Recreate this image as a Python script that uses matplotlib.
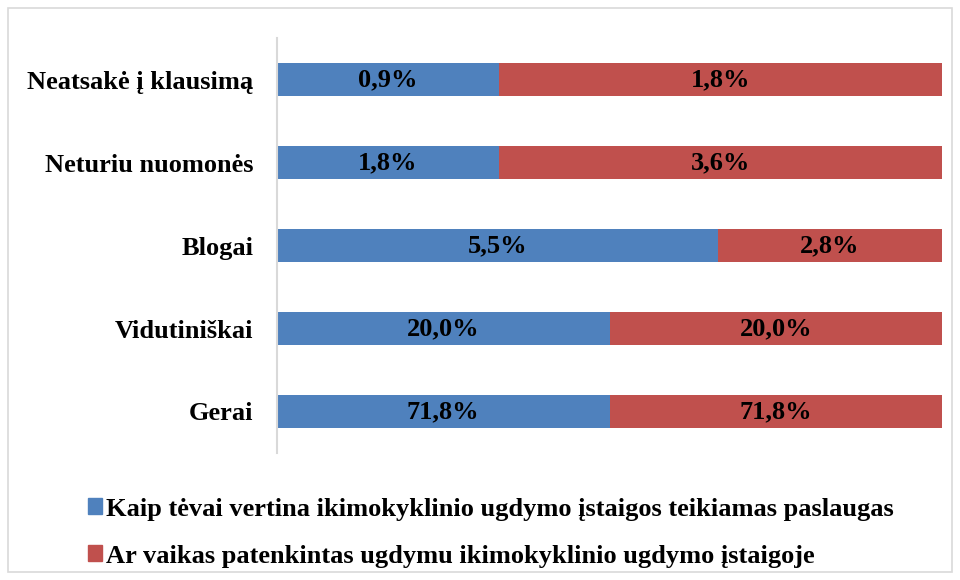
import matplotlib
matplotlib.use("Agg")
import matplotlib.pyplot as plt
from matplotlib.patches import Rectangle, Patch

categories = ["Gerai", "Vidutiniškai", "Blogai", "Neturiu nuomonės", "Neatsakė į klausimą"]
series1 = [71.8, 20.0, 5.5, 1.8, 0.9]
series2 = [71.8, 20.0, 2.8, 3.6, 1.8]
labels1 = ["71,8%", "20,0%", "5,5%", "1,8%", "0,9%"]
labels2 = ["71,8%", "20,0%", "2,8%", "3,6%", "1,8%"]
series_names = ["Kaip tėvai vertina ikimokyklinio ugdymo įstaigos teikiamas paslaugas",
                "Ar vaikas patenkintas ugdymu ikimokyklinio ugdymo įstaigoje"]
colors = ["#4F81BD", "#C0504D"]

plt.rcParams['font.family'] = ['Liberation Serif', 'DejaVu Serif']
plt.rcParams['font.weight'] = 'bold'
FS = 19

fig = plt.figure(figsize=(9.6, 5.8), dpi=100)
fig.patches.append(Rectangle((8/960, 8/580), 944/960, 564/580, transform=fig.transFigure,
                             fill=False, edgecolor="#D9D9D9", linewidth=1.2))
ax = fig.add_axes([277/960, (580-453)/580, (942-277)/960, (453-38)/580])

ys = list(range(len(categories)))
tot = [a + b for a, b in zip(series1, series2)]
p1 = [a / t for a, t in zip(series1, tot)]
p2 = [b / t for b, t in zip(series2, tot)]
ax.barh(ys, p1, height=0.4, color=colors[0])
ax.barh(ys, p2, left=p1, height=0.4, color=colors[1])
for y, a, b, l1, l2 in zip(ys, p1, p2, labels1, labels2):
    ax.text(a / 2, y, l1, ha="center", va="center", fontsize=FS, fontweight="bold", color="black")
    ax.text(a + b / 2, y, l2, ha="center", va="center", fontsize=FS, fontweight="bold", color="black")

ax.set_xlim(0, 1)
ax.set_ylim(-0.5, len(categories) - 0.5)
ax.set_yticks(ys)
ax.set_yticklabels(categories, fontsize=FS, fontweight="bold")
ax.tick_params(axis="y", length=0, pad=17)
ax.set_xticks([])
for s in ["top", "right", "bottom"]:
    ax.spines[s].set_visible(False)
ax.spines["left"].set_color("#D9D9D9")
ax.spines["left"].set_linewidth(1.5)

handles = [Patch(color=c) for c in colors]
fig.legend(handles, series_names, loc="upper left", bbox_to_anchor=(64/960, 1 - 474/580),
           frameon=False, handlelength=0.55, handleheight=0.55, handletextpad=0.15,
           labelspacing=0.9, prop={"weight": "bold", "size": FS})

fig.savefig("out.png", dpi=100)
